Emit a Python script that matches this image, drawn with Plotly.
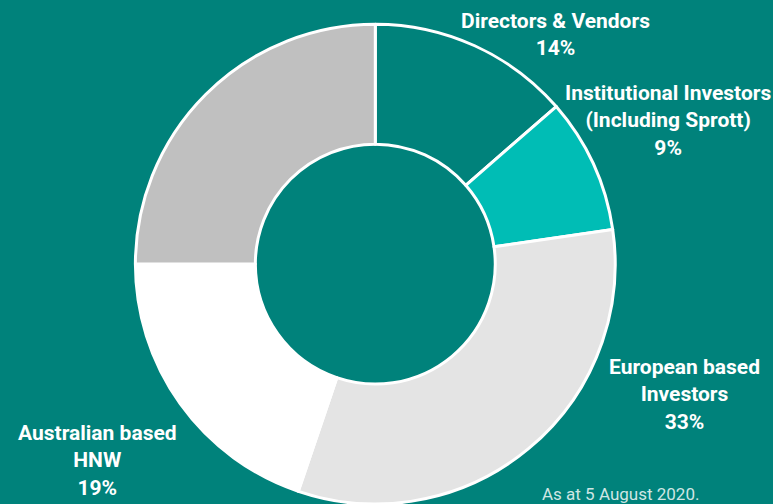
import plotly.graph_objects as go

labels = ["Directors & Vendors", "Institutional Investors (Including Sprott)",
          "European based Investors", "Australian based HNW", "Other"]
values = [13.6, 9.1, 32.5, 19.8, 25.0]
colors = ["#00827B", "#00BDB5", "#E4E4E4", "#FFFFFF", "#C0C0C0"]

label_texts = ["Directors & Vendors<br>14%",
               "Institutional Investors<br>(Including Sprott)<br>9%",
               "European based<br>Investors<br>33%",
               "Australian based<br>HNW<br>19%"]
label_pos = [(555, 35), (668, 120), (684, 394), (97, 460)]

BG = "#00827B"
W, H = 773, 504

fig = go.Figure(go.Pie(
    labels=labels, values=values, sort=False, direction="clockwise",
    rotation=0, hole=0.5,
    marker=dict(colors=colors, line=dict(color="white", width=3)),
    textinfo="none", hoverinfo="label", showlegend=False,
    domain=dict(x=[0.175, 0.796], y=[0.0, 0.952]),
))

FONT = "Roboto, sans-serif"
for t, (x, y) in zip(label_texts, label_pos):
    fig.add_annotation(x=x / W, y=1 - y / H, xref="paper", yref="paper",
                       text="<b>" + t + "</b>", showarrow=False,
                       xanchor="center", yanchor="middle", align="center",
                       font=dict(family=FONT, size=21, color="white"))

fig.add_annotation(x=620 / W, y=1 - 494 / H, xref="paper", yref="paper",
                   text="As at 5 August 2020.", showarrow=False,
                   xanchor="center", yanchor="middle",
                   font=dict(family=FONT, size=17, color="#CFE6E4"))

fig.update_layout(width=W, height=H, margin=dict(l=0, r=0, t=0, b=0),
                  paper_bgcolor=BG, plot_bgcolor=BG)
fig.write_html("out.html", config={"displayModeBar": False},
               post_script="document.body.style.margin='0';document.body.style.overflow='hidden';")
